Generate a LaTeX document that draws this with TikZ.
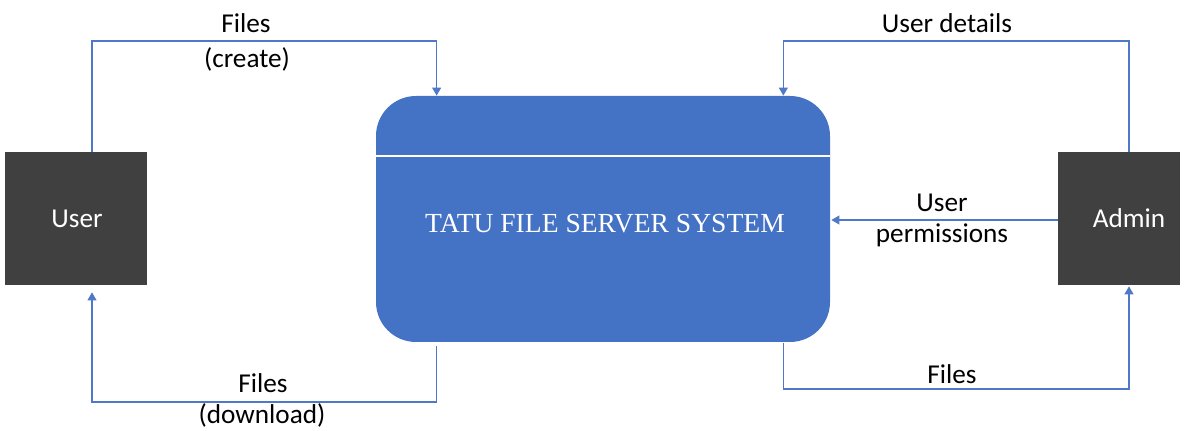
\documentclass[tikz,border=0pt]{standalone}
\usepackage{fontspec}
\setmainfont{Carlito}
\newfontfamily\titlefont{Liberation Serif}
\usetikzlibrary{arrows.meta,calc}
\definecolor{boxdark}{HTML}{404040}
\definecolor{sysblue}{HTML}{4472C4}
\definecolor{flowblue}{HTML}{4F78C8}
\tikzset{
  extbox/.style={fill=boxdark, draw=none, text=white, minimum height=133*0.02cm, inner sep=0pt},
  sysbox/.style={fill=sysblue, draw=none, rounded corners=0.8cm, minimum width=454*0.02cm, minimum height=246*0.02cm, inner sep=0pt},
  flow/.style={draw=flowblue, line width=0.7pt, -{Triangle[width=5pt,length=4.5pt]}},
  lbl/.style={font=\fontsize{15.5}{18}\selectfont, text=black, anchor=base, inner sep=0pt},
  wlbl/.style={font=\fontsize{15.5}{18}\selectfont, text=white, anchor=base, inner sep=0pt},
}
\begin{document}
\begin{tikzpicture}[x=0.02cm,y=-0.02cm]
\useasboundingbox (0,0) rectangle (1191,431);
% nodes
\node[extbox, minimum width=142*0.02cm] (user) at (76,218.5) {};
\node[extbox, minimum width=122*0.02cm] (admin) at (1119,218.5) {};
\node[sysbox] (sys) at (603,219) {};
\draw[white, line width=0.8pt] ($(sys.west |- 0,156)$) coordinate (divL) -- ($(sys.east |- 0,156)$) coordinate (divR);
\node[text=white, anchor=base, inner sep=0pt, font=\titlefont\fontsize{15.7}{19}\selectfont] (title) at (605,233) {TATU FILE SERVER SYSTEM};
\node[wlbl] (usertxt) at (77,228) {User};
\node[wlbl] (admintxt) at (1129,228) {Admin};
% anchor coordinates
\coordinate (uTop) at ($(user.north)+(16,0)$);
\coordinate (uBot) at ($(user.south)+(16,7)$);
\coordinate (sTL) at ($(sys.north west)+(61,0)$);
\coordinate (sBL) at ($(sys.south west)+(61,4)$);
\coordinate (sTR) at ($(sys.north east)+(-47,0)$);
\coordinate (sBR) at ($(sys.south east)+(-47,1)$);
\coordinate (aTop) at ($(admin.north)+(10,0)$);
\coordinate (aBot) at ($(admin.south)+(10,1)$);
\coordinate (aMid) at (admin.west |- 0,220);
\coordinate (sMid) at ($(sys.east |- 0,220)+(1,0)$);
% connectors
\draw[flow] (uTop) -- (uTop |- 0,41) -| (sTL);
\draw[flow] (sBL) -- (sBL |- 0,402) -| (uBot);
\draw[flow] (aTop) -- (aTop |- 0,41) -| (sTR);
\draw[flow] (aMid) -- (sMid);
\draw[flow] (sBR) -- (sBR |- 0,389) -| (aBot);
% labels
\node[lbl] (l1a) at (246,33) {Files};
\node[lbl] (l1b) at (247,68) {(create)};
\node[lbl] (l2a) at (263,393) {Files};
\node[lbl] (l2b) at (262,424) {(download)};
\node[lbl] (l3) at (947,33) {User details};
\node[lbl] (l4a) at (942,212) {User};
\node[lbl] (l4b) at (942,243) {permissions};
\node[lbl] (l5) at (952,384) {Files};
\end{tikzpicture}
\end{document}
